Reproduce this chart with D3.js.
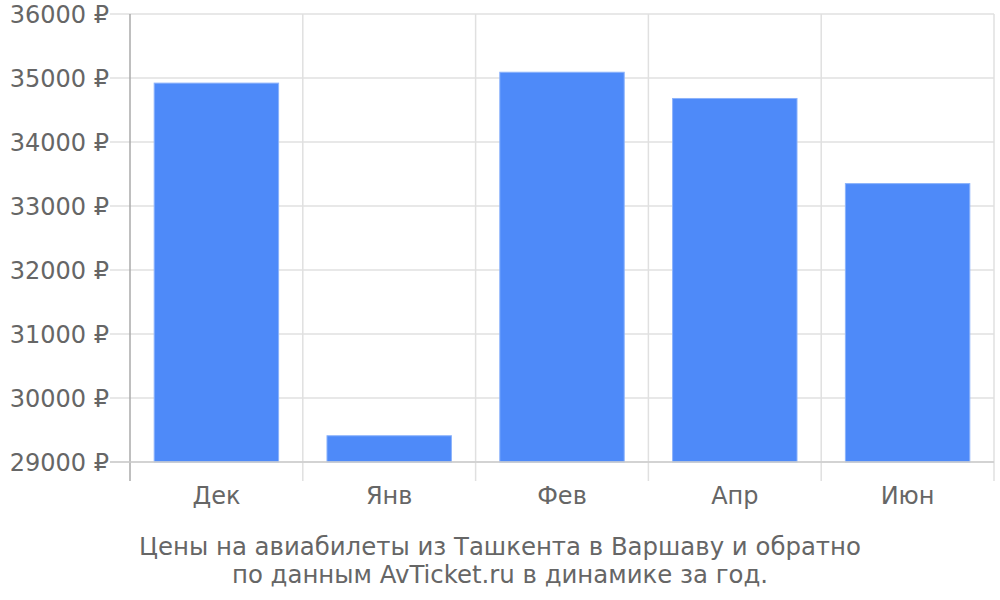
<!DOCTYPE html>
<html><head><meta charset="utf-8">
<script src="https://cdn.jsdelivr.net/npm/d3@7"></script>
<style>body{margin:0;background:#fff;} svg{display:block;font-family:"DejaVu Sans";}</style>
</head><body><svg id="c" width="1000" height="600"></svg>
<script>
const categories = ["Дек","Янв","Фев","Апр","Июн"];
const prices = [34920, 29410, 35090, 34680, 33350];
const yTicks = [29000,30000,31000,32000,33000,34000,35000,36000];
const captionLines = ["Цены на авиабилеты из Ташкента в Варшаву и обратно","по данным AvTicket.ru в динамике за год."];

const svg = d3.select("#c");
const m = {l:130, r:994, t:14, b:462};
const x = d3.scaleBand().domain(categories).range([m.l, m.r]).paddingInner(0.28).paddingOuter(0.14);
const y = d3.scaleLinear().domain([29000,36000]).range([m.b, m.t]);

// horizontal grid
svg.append("g").selectAll("line").data(yTicks).join("line")
  .attr("x1", m.l-20).attr("x2", m.r).attr("y1", d=>y(d)).attr("y2", d=>y(d))
  .attr("stroke", "#e0e0e0").attr("stroke-width", 1.5);
// vertical grid at band boundaries
const bounds = categories.map(c => x(c) - x.step()*x.paddingInner()/2 ).concat([m.r]);
svg.append("g").selectAll("line").data(bounds.slice(1)).join("line")
  .attr("x1", d=>d).attr("x2", d=>d).attr("y1", m.t).attr("y2", m.b+19)
  .attr("stroke", "#e0e0e0").attr("stroke-width", 1.5);

// bars
svg.append("g").selectAll("rect").data(prices).join("rect")
  .attr("x", (d,i)=>x(categories[i])).attr("width", x.bandwidth())
  .attr("y", d=>y(d)).attr("height", d=>y(29000)-y(d))
  .attr("fill", "#4e8af9").attr("stroke", "#8bb2fb").attr("stroke-width", 1);

// axes lines
svg.append("line").attr("x1", m.l).attr("x2", m.l).attr("y1", m.t).attr("y2", m.b+19)
  .attr("stroke", "#aaaaaa").attr("stroke-width", 1.5);
svg.append("line").attr("x1", m.l-20).attr("x2", m.r).attr("y1", m.b).attr("y2", m.b)
  .attr("stroke", "#cccccc").attr("stroke-width", 1.5);

// y labels
svg.append("g").selectAll("text").data(yTicks).join("text")
  .attr("x", 109).attr("y", d=>y(d)+9).attr("text-anchor","end")
  .attr("font-size", 24).attr("fill", "#666").text(d=>d+" ₽");
// x labels
svg.append("g").selectAll("text").data(categories).join("text")
  .attr("x", d=>x(d)+x.bandwidth()/2).attr("y", 504).attr("text-anchor","middle")
  .attr("font-size", 24).attr("fill", "#666").text(d=>d);
// caption
svg.append("g").selectAll("text").data(captionLines).join("text")
  .attr("x", 500).attr("y", (d,i)=>555+i*28).attr("text-anchor","middle")
  .attr("font-size", 24.4).attr("fill", "#666").text(d=>d);
</script></body></html>
